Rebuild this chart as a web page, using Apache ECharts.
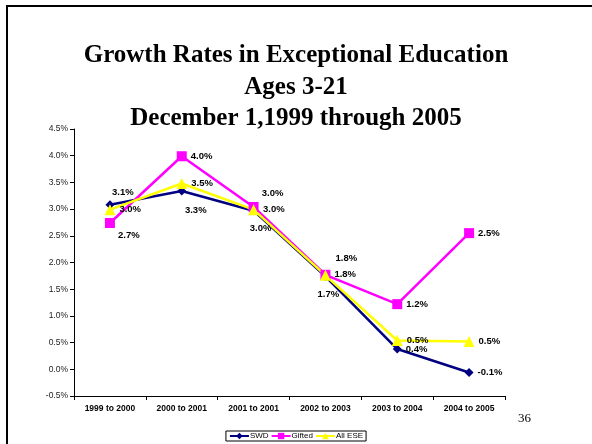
<!DOCTYPE html>
<html>
<head>
<meta charset="utf-8">
<script src="https://cdn.jsdelivr.net/npm/echarts@6/dist/echarts.min.js"></script>
<style>
  html, body { margin: 0; padding: 0; background: #fff; }
  #container { width: 592px; height: 444px; }
</style>
</head>
<body>
<div id="container"></div>
<script>
// 数据
var categories = ['1999 to 2000', '2000 to 2001', '2001 to 2001', '2002 to 2003', '2003 to 2004', '2004 to 2005'];
var swd    = [3.08, 3.34, 2.97, 1.74, 0.38, -0.06];
var gifted = [2.74, 3.99, 3.04, 1.77, 1.22, 2.55];
var allEse = [2.99, 3.48, 2.99, 1.76, 0.54, 0.52];
var yTicks = { min: -0.5, max: 4.5, step: 0.5 };

// 标签手动位置 (index -> offset from marker centre)
var swdLabelMoves    = { 0: [13, -12], 1: [14, 19], 2: [7, 18], 3: [3, 18] };
var giftedLabelMoves = { 0: [19, 12], 2: [19, -14] };
var eseLabelMoves    = { 3: [21, -17] };

function buildData(values, moves) {
    return values.map(function (v, i) {
        var item = { value: v };
        if (moves[i]) {
            item.label = { position: 'inside', offset: moves[i] };
        }
        return item;
    });
}

var labelStyle = {
    show: true,
    position: 'right',
    distance: 4,
    fontFamily: 'Liberation Sans, Arial',
    fontWeight: 'bold',
    fontSize: 9.5,
    color: '#000',
    formatter: function (p) { return p.value.toFixed(1) + '%'; }
};

var dom = document.getElementById('container');
var myChart = echarts.init(dom);
var option = {
    animation: false,
    graphic: [{
        type: 'rect',
        shape: { x: 7, y: 6, width: 620, height: 480 },
        style: { fill: 'none', stroke: '#000', lineWidth: 2 },
        z: 100
    }, {
        type: 'text',
        left: 518, top: 412,
        style: { text: '36', font: '13px "Liberation Serif", serif', fill: '#000' }
    }],
    title: {
        text: 'Growth Rates in Exceptional Education\nAges 3-21\nDecember 1,1999 through 2005',
        left: 'center',
        top: 35,
        textStyle: {
            fontFamily: 'Liberation Serif, Times New Roman',
            fontWeight: 'bold',
            fontSize: 25,
            lineHeight: 31.5,
            color: '#000'
        }
    },
    legend: {
        top: 431,
        left: 'center',
        itemWidth: 19,
        itemHeight: 8,
        itemGap: 2,
        padding: [1, 3],
        borderColor: '#000',
        borderWidth: 1,
        textStyle: { fontFamily: 'Liberation Sans, Arial', fontSize: 8, color: '#000', padding: [0, 0, 0, -4] },
        data: ['SWD', 'Gifted', 'All ESE']
    },
    grid: { left: 74, right: 87, top: 129, bottom: 48 },
    xAxis: {
        type: 'category',
        data: categories,
        boundaryGap: true,
        axisLine: { onZero: false, lineStyle: { color: '#000', width: 1 } },
        axisTick: { show: true, length: 4, lineStyle: { color: '#000' } },
        axisLabel: {
            fontFamily: 'Liberation Sans, Arial',
            fontWeight: 'bold',
            fontSize: 8.5,
            color: '#000',
            margin: 8
        }
    },
    yAxis: {
        type: 'value',
        min: yTicks.min,
        max: yTicks.max,
        interval: yTicks.step,
        axisLine: { show: true, lineStyle: { color: '#000', width: 1 } },
        axisTick: { show: true, length: 4, lineStyle: { color: '#000' } },
        splitLine: { show: false },
        axisLabel: {
            fontFamily: 'Liberation Sans, Arial',
            fontSize: 8.5,
            color: '#222',
            margin: 6,
            formatter: function (v) { return v.toFixed(1) + '%'; }
        }
    },
    series: [
        {
            name: 'SWD',
            type: 'line',
            data: buildData(swd, swdLabelMoves),
            symbol: 'diamond',
            symbolSize: 9,
            itemStyle: { color: '#000080' },
            lineStyle: { color: '#000080', width: 2.5 },
            label: labelStyle
        },
        {
            name: 'Gifted',
            type: 'line',
            data: buildData(gifted, giftedLabelMoves),
            symbol: 'rect',
            symbolSize: 10,
            itemStyle: { color: '#FF00FF' },
            lineStyle: { color: '#FF00FF', width: 2.5 },
            label: labelStyle
        },
        {
            name: 'All ESE',
            type: 'line',
            data: buildData(allEse, eseLabelMoves),
            symbol: 'triangle',
            symbolSize: 11,
            itemStyle: { color: '#FFFF00' },
            lineStyle: { color: '#FFFF00', width: 2.5 },
            label: labelStyle
        }
    ]
};

if (option && typeof option === 'object') {
    myChart.setOption(option);
}
</script>
</body>
</html>
